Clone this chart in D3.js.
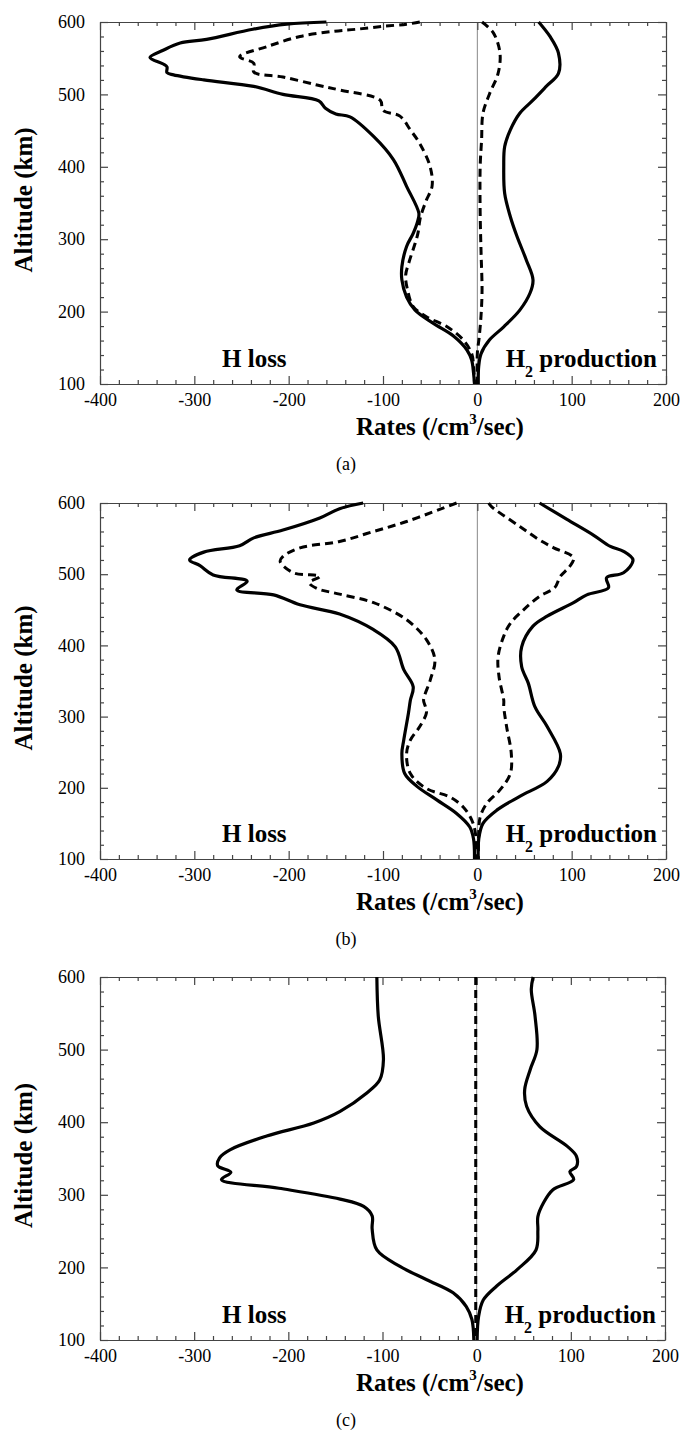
<!DOCTYPE html>
<html>
<head>
<meta charset="utf-8">
<script src="https://cdn.jsdelivr.net/npm/d3@7"></script>
<style>
  body { margin: 0; background: #fff; }
  svg text { font-family: "Liberation Serif", "Times New Roman", serif; fill: #000; }
</style>
</head>
<body>
<svg id="chart" width="681" height="1430"></svg>
<script>
// tick labels
const xTicks = [-400, -300, -200, -100, 0, 100, 200];
const yTicks = [100, 200, 300, 400, 500, 600];

// each series: [rate, altitude], top to bottom

// panel (a)
const aLossSolid = [[-160,600],[-202,597],[-238,590],[-287,576],[-315,571],[-333,561],[-347,551],[-333,542],[-329,538],[-329,530],[-322,527],[-290,520],[-237,511],[-206,500],[-168,491],[-161,481],[-150,473],[-135,469],[-110,442],[-89,410],[-75,373],[-62,336],[-63,326],[-68,308],[-75,290],[-80,262],[-80,244],[-75,220],[-66,202],[-47,184],[-25,166],[-11,147],[-6,133],[-4,115],[-3,100]];
const aLossDash = [[-61,600],[-75,597],[-100,594],[-128,590],[-153,587],[-188,580],[-223,566],[-252,552],[-237,543],[-237,531],[-206,524],[-170,513],[-146,506],[-103,492],[-100,478],[-82,470],[-71,451],[-61,432],[-50,400],[-48,373],[-54,354],[-59,336],[-61,326],[-63,308],[-66,294],[-72,270],[-76,250],[-74,230],[-68,207],[-54,193],[-32,179],[-15,161],[-6,142],[-4,125],[-3,100]];
const aProdSolid = [[65,600],[77,580],[86,557],[86,529],[73,511],[59,492],[45,474],[35,451],[29,428],[28,400],[29,363],[35,331],[42,304],[52,271],[59,244],[56,226],[45,202],[28,179],[13,161],[4,142],[1.5,125],[1,100]];
const aProdDash = [[5,600],[17,585],[24,557],[22,529],[13,501],[6,474],[4.5,437],[3,400],[3,336],[4,280],[5,230],[4,196],[2,165],[0,142],[0,100]];

// panel (b)
const bLossSolid = [[-121,600],[-146,592],[-167,579],[-206,562],[-237,551],[-252,540],[-290,531],[-305,520],[-294,512],[-280,499],[-244,490],[-255,478],[-216,471],[-188,457],[-146,444],[-110,422],[-87,398],[-78,366],[-68,342],[-71,323],[-73,305],[-78,267],[-80,248],[-77,220],[-64,202],[-43,183],[-22,164],[-8,145],[-4,128],[-3,100]];
const bLossDash = [[-22,600],[-40,591],[-75,574],[-110,560],[-146,546],[-188,537],[-206,525],[-209,518],[-195,502],[-167,497],[-178,488],[-170,480],[-146,472],[-110,460],[-75,436],[-54,408],[-45,380],[-50,351],[-57,323],[-55,314],[-54,305],[-61,286],[-71,267],[-75,248],[-71,220],[-54,199],[-29,187],[-15,173],[-6,155],[-2,136],[-1,100]];
const bProdSolid = [[66,600],[95,577],[123,555],[141,539],[155,532],[165,520],[155,502],[137,495],[139,481],[116,471],[102,460],[74,441],[59,427],[47,398],[47,370],[54,347],[61,314],[74,286],[88,248],[86,230],[74,209],[45,188],[21,169],[6,150],[1.5,128],[1,100]];
const bProdDash = [[12,600],[15,595],[45,567],[66,548],[81,537],[102,523],[98,511],[88,497],[82,481],[66,469],[49,450],[35,431],[28,413],[22,384],[23,356],[28,323],[28,314],[31,286],[36,248],[35,220],[24,197],[10,178],[3,159],[1.5,138],[1,100]];

// panel (c)
const cLossSolid = [[-106,600],[-104.5,546],[-99,486],[-103,458],[-117,440],[-145,415],[-173,399],[-223,381],[-262,362],[-273,351],[-275,340],[-261,331],[-271,321],[-210,309],[-145,294],[-120,284],[-111,271],[-111,253],[-106,224],[-81,201],[-53,183],[-25,165],[-11,146],[-5,128],[-3,100]];
const cProdSolid = [[60,600],[58,583],[62,546],[64,500],[57,473],[51,445],[53,422],[67,394],[96,367],[106,353],[106,339],[99,332],[103,321],[81,307],[71,289],[65,270],[65,251],[63,224],[43,197],[21,174],[7,155],[2,132],[0.5,100]];
const cDash = [[-1,600],[-1,100]];

const svg = d3.select("#chart");
const font = '"Liberation Serif", "Times New Roman", serif';

function styleAxis(sel) {
  sel.select(".domain").attr("stroke", "#444").attr("stroke-width", 1.2);
  sel.selectAll(".tick line").attr("stroke", "#444").attr("stroke-width", 1.2);
  sel.selectAll(".tick text").attr("font-size", 18).attr("font-family", font).attr("fill", "#000");
}

function drawPanel(p) {
  const x = d3.scaleLinear().domain([-400, 200]).range([100, p.right]);
  const y = d3.scaleLinear().domain([100, 600]).range([p.bottom, p.top]);
  const g = svg.append("g");

  const xMinor = d3.range(-400, 201, 20).filter(v => v % 100 !== 0);
  const yMinor = d3.range(100, 601, 20).filter(v => v % 100 !== 0);

  // zero line
  g.append("line")
    .attr("x1", x(0)).attr("x2", x(0))
    .attr("y1", y(100)).attr("y2", y(600))
    .attr("stroke", "#888").attr("stroke-width", 1);

  // bottom axis
  g.append("g").attr("transform", `translate(0,${p.bottom})`)
    .call(d3.axisBottom(x).tickValues(xTicks).tickSizeInner(-8).tickSizeOuter(0)
      .tickPadding(9).tickFormat(d => String(d)))
    .call(styleAxis);
  g.append("g").attr("transform", `translate(0,${p.bottom})`)
    .call(d3.axisBottom(x).tickValues(xMinor).tickSize(-4).tickFormat(""))
    .call(styleAxis).select(".domain").remove();

  // top axis
  g.append("g").attr("transform", `translate(0,${p.top})`)
    .call(d3.axisTop(x).tickValues(xTicks).tickSizeInner(-8).tickSizeOuter(0).tickFormat(""))
    .call(styleAxis);
  g.append("g").attr("transform", `translate(0,${p.top})`)
    .call(d3.axisTop(x).tickValues(xMinor).tickSize(-4).tickFormat(""))
    .call(styleAxis).select(".domain").remove();

  // left axis
  g.append("g").attr("transform", "translate(100,0)")
    .call(d3.axisLeft(y).tickValues(yTicks).tickSizeInner(-8).tickSizeOuter(0)
      .tickPadding(15).tickFormat(d => String(d)))
    .call(styleAxis);
  g.append("g").attr("transform", "translate(100,0)")
    .call(d3.axisLeft(y).tickValues(yMinor).tickSize(-4).tickFormat(""))
    .call(styleAxis).select(".domain").remove();

  // right axis
  g.append("g").attr("transform", `translate(${p.right},0)`)
    .call(d3.axisRight(y).tickValues(yTicks).tickSizeInner(-8).tickSizeOuter(0).tickFormat(""))
    .call(styleAxis);
  g.append("g").attr("transform", `translate(${p.right},0)`)
    .call(d3.axisRight(y).tickValues(yMinor).tickSize(-4).tickFormat(""))
    .call(styleAxis).select(".domain").remove();

  // curves
  const line = d3.line()
    .x(d => x(d[0]))
    .y(d => y(d[1]))
    .curve(d3.curveCatmullRom.alpha(0.5));

  p.dashed.forEach(s => {
    g.append("path").datum(s).attr("d", line)
      .attr("fill", "none").attr("stroke", "#000").attr("stroke-width", 3)
      .attr("stroke-dasharray", "8,5");
  });
  p.solid.forEach(s => {
    g.append("path").datum(s).attr("d", line)
      .attr("fill", "none").attr("stroke", "#000").attr("stroke-width", 3.2)
      .attr("stroke-linejoin", "round");
  });

  // in-plot labels
  g.append("text")
    .attr("x", 222).attr("y", p.bottom - 17)
    .attr("font-size", 25).attr("font-weight", "bold")
    .text("H loss");

  const h2 = g.append("text")
    .attr("x", p.right - 9).attr("y", p.bottom - 17)
    .attr("text-anchor", "end")
    .attr("font-size", 25).attr("font-weight", "bold");
  h2.append("tspan").text("H");
  h2.append("tspan").attr("dy", 10).attr("font-size", 16).text("2");
  h2.append("tspan").attr("dy", -10).text(" production");

  // axis titles
  const xt = g.append("text")
    .attr("x", 440).attr("y", p.bottom + 51)
    .attr("text-anchor", "middle")
    .attr("font-size", 25).attr("font-weight", "bold");
  xt.append("tspan").text("Rates (/cm");
  xt.append("tspan").attr("dy", -11).attr("font-size", 15).text("3");
  xt.append("tspan").attr("dy", 11).text("/sec)");

  g.append("text")
    .attr("transform", `translate(32,${(p.top + p.bottom) / 2 - 3}) rotate(-90)`)
    .attr("text-anchor", "middle")
    .attr("font-size", 25).attr("font-weight", "bold")
    .text("Altitude (km)");

  // caption
  g.append("text")
    .attr("x", 346).attr("y", p.bottom + 86)
    .attr("text-anchor", "middle")
    .attr("font-size", 18)
    .text(p.caption);
}

drawPanel({ top: 22, bottom: 384, right: 666, caption: "(a)",
  solid: [aLossSolid, aProdSolid], dashed: [aLossDash, aProdDash] });
drawPanel({ top: 503, bottom: 859, right: 666, caption: "(b)",
  solid: [bLossSolid, bProdSolid], dashed: [bLossDash, bProdDash] });
drawPanel({ top: 977, bottom: 1340, right: 665, caption: "(c)",
  solid: [cLossSolid, cProdSolid], dashed: [cDash] });
</script>
</body>
</html>
